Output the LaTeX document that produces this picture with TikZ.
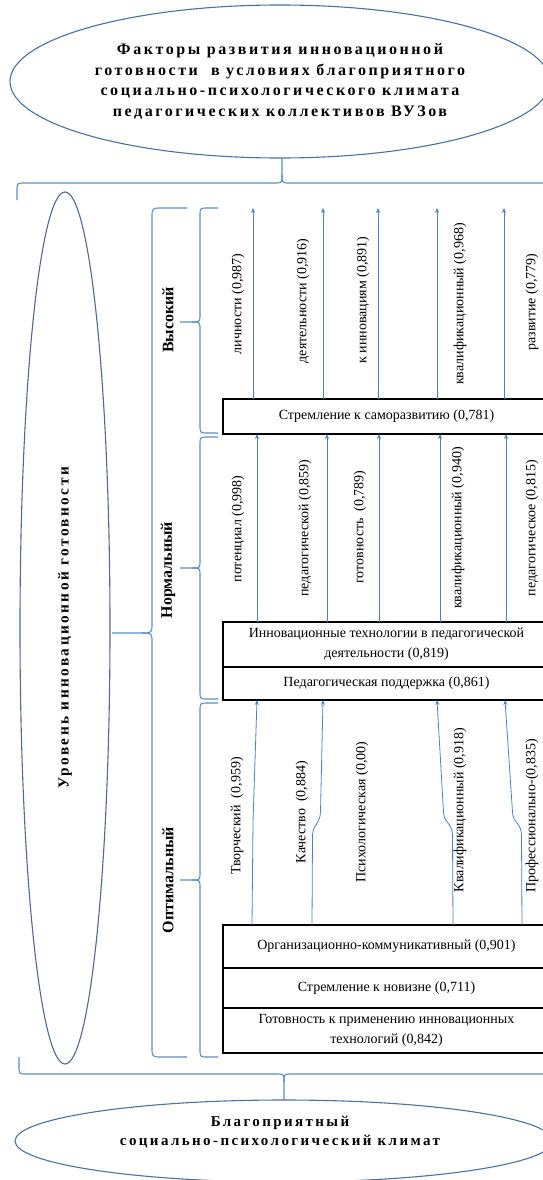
\documentclass[tikz,border=0pt]{standalone}
\usepackage{fontspec}
\setmainfont{Liberation Serif}
\newfontfamily\spc[LetterSpace=16]{Liberation Serif}
\usetikzlibrary{shapes.geometric,arrows.meta}
\definecolor{arrc}{RGB}{79,129,189}
\definecolor{brcc}{RGB}{91,140,198}
\definecolor{ellc}{RGB}{74,112,160}
\definecolor{levc}{RGB}{80,105,140}
\newcommand\mylbrace[7]{% #1 x, #2 top, #3 bottom, #4 tip y, #5 tip x, #6 end x, #7 radius
  \draw[brc] (#6,#2) -- ({#1+#7},#2) .. controls (#1,#2) .. (#1,{#2+#7}) -- (#1,{#4-#7}) .. controls (#1,#4) .. ({#1-#7},#4) -- (#5,#4);
  \draw[brc] ({#1-#7},#4) .. controls (#1,#4) .. (#1,{#4+#7}) -- (#1,{#3-#7}) .. controls (#1,#3) .. ({#1+#7},#3) -- (#6,#3);
}
\begin{document}
\begin{tikzpicture}[x=1pt,y=-1pt,
  box/.style={draw=black, line width=1.1pt, minimum width=327pt, inner sep=0pt, outer sep=0pt, align=center, font=\fontsize{14}{20}\selectfont},
  lab/.style={rotate=90, font=\fontsize{14}{16}\selectfont, inner sep=0pt},
  lvl/.style={rotate=90, font=\fontsize{16}{18}\selectfont\bfseries, inner sep=0pt},
  arr/.style={draw=arrc, line width=0.8pt, -{Stealth[length=5pt,width=4pt]}},
  brc/.style={draw=brcc, line width=1.1pt},
  ttl/.style={font=\fontsize{16}{20.7}\selectfont\spc\bfseries, align=center},
  bttl/.style={font=\fontsize{15}{19}\selectfont\spc\bfseries, align=center},
  ell/.style={ellipse, draw=ellc, line width=1.1pt, inner sep=0pt, outer sep=0pt}
]
\useasboundingbox (0,0) rectangle (542,1180);

% top and bottom ellipses
\node[ell, minimum width=540pt, minimum height=153pt, ttl] (topell) at (280,81.5)
  {Факторы развития инновационной\\готовности \ в условиях благоприятного\\социально-психологического климата\\педагогических коллективов ВУЗов};
\node[ell, minimum width=538pt, minimum height=82pt] (botell) at (284,1141) {};
\node[bttl] (bottxt) at (280,1132) {Благоприятный\\социально-психологический климат};

% left ellipse
\node[ell, draw=levc, rotate=90, minimum width=872pt, minimum height=90pt,
      font=\fontsize{15.3}{17}\selectfont\spc\bfseries] (lev) at (65,628) {Уровень инновационной готовности};

% horizontal braces
\coordinate (tt) at (282,0);
\coordinate (bt) at (284,0);
\draw[brc] (17,200) -- (17,191) .. controls (17,183) .. (25,183) -- (274,183) .. controls (282,183) .. (282,175) -- (tt |- topell.south);
\draw[brc] (282,175) .. controls (282,183) .. (290,183) -- (541,183) .. controls (549,183) .. (549,191) -- (549,200);
\draw[brc] (19,1057) -- (19,1066) .. controls (19,1074) .. (27,1074) -- (276,1074) .. controls (284,1074) .. (284,1082) -- (bt |- botell.north);
\draw[brc] (284,1082) .. controls (284,1074) .. (292,1074) -- (541,1074) .. controls (549,1074) .. (549,1066) -- (549,1057);

% vertical braces
\mylbrace{152}{208}{1057}{633}{112}{187}{10}
\mylbrace{200}{208}{433}{322}{180}{218}{8}
\mylbrace{200}{437}{699}{568}{180}{218}{8}
\mylbrace{200}{703}{1057}{880}{180}{218}{8}

% level labels
\node[lvl] (vys) at (168,320) {Высокий};
\node[lvl] (nor) at (168,570) {Нормальный};
\node[lvl] (opt) at (168,880) {Оптимальный};

% boxes
\node[box, minimum height=35pt] (sA) at (386.5,416.5) {Стремление к саморазвитию (0,781)};
\node[box, minimum height=45pt] (iB) at (386.5,644.5) {Инновационные технологии в педагогической\\деятельности (0,819)};
\node[box, minimum height=33pt] (pC) at (386.5,683.5) {Педагогическая поддержка (0,861)};
\node[box, minimum height=43pt] (oD) at (386.5,946.5) {Организационно-коммуникативный (0,901)};
\node[box, minimum height=40pt] (nE) at (386.5,988) {Стремление к новизне (0,711)};
\node[box, minimum height=45pt] (gF) at (386.5,1030.5) {Готовность к применению инновационных\\технологий (0,842)};

% high row
\coordinate (h1) at (253,208);
\coordinate (h2) at (323,208);
\coordinate (h3) at (378,208);
\coordinate (h4) at (437,208);
\coordinate (h5) at (504,208);
\foreach \i in {1,...,5} {\draw[arr] (h\i |- sA.north) -- (h\i);}
\node[lab] (l11) at (238,304) {личности (0,987)};
\node[lab] (l12) at (303,301) {деятельности (0,916)};
\node[lab] (l13) at (363,300) {к инновациям (0,891)};
\node[lab] (l14) at (460,304) {квалификационный (0,968)};
\node[lab] (l15) at (532,302) {развитие (0,779)};

% normal row
\coordinate (m1) at (257,0);
\coordinate (m2) at (327,0);
\coordinate (m3) at (379,0);
\coordinate (m4) at (440,0);
\coordinate (m5) at (506,0);
\foreach \i in {1,...,5} {\draw[arr] (m\i |- iB.north) -- (m\i |- sA.south);}
\node[lab] (l21) at (238,529) {потенциал (0,998)};
\node[lab] (l22) at (305,528) {педагогической (0,859)};
\node[lab] (l23) at (360,527) {готовность \ (0,789)};
\node[lab] (l24) at (458,528) {квалификационный (0,940)};
\node[lab] (l25) at (532,528) {педагогическое (0,815)};

% optimal row
\coordinate (b1) at (252,0); \coordinate (t1) at (257,0);
\coordinate (b2) at (312,0); \coordinate (t2) at (323,0);
\coordinate (b4) at (453,0); \coordinate (t4) at (437,0);
\coordinate (b5) at (522,0); \coordinate (t5) at (505,0);
\draw[arr] (b1 |- oD.north) -- (253,822) -- (t1 |- pC.south);
\draw[arr] (b2 |- oD.north) -- (312.5,835) .. controls (313,824) and (320,824) .. (320.5,812) -- (t2 |- pC.south);
\draw[arr] (b4 |- oD.north) -- (452.5,835) .. controls (452,822) and (444,824) .. (443.5,812) -- (t4 |- pC.south);
\draw[arr] (b5 |- oD.north) -- (521.5,835) .. controls (521,822) and (513,824) .. (512.5,812) -- (t5 |- pC.south);
\node[lab] (l31) at (237,816) {Творческий \ (0,959)};
\node[lab] (l32) at (302,812) {Качество \ (0,884)};
\node[lab] (l33) at (362,812) {Психологическая (0,00)};
\node[lab] (l34) at (460,810) {Квалификационный (0,918)};
\node[lab] (l35) at (532,816) {Профессионально-(0,835)};
\end{tikzpicture}
\end{document}
